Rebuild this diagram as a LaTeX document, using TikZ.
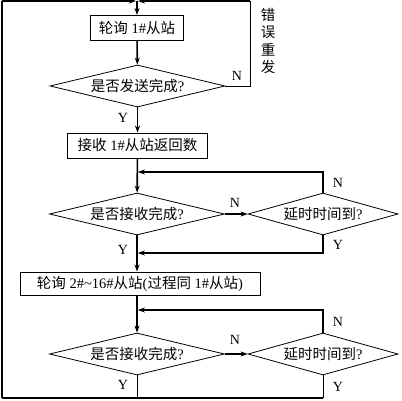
\documentclass[tikz,border=0pt]{standalone}
\usepackage{fontspec}
\setmainfont{Liberation Serif}
\newfontfamily\cjk{Noto Sans CJK SC}
\usetikzlibrary{shapes.geometric,arrows.meta}
\newcommand{\fs}{\fontsize{14.5pt}{17.5pt}\selectfont}
\begin{document}
\begin{tikzpicture}[x=1pt,y=-1pt,
  box/.style={draw,line width=0.9pt,minimum height=25pt,inner sep=0pt,font=\fs},
  dia/.style={draw,diamond,line width=0.8pt,minimum width=175pt,minimum height=42pt,inner sep=0pt,aspect=4.2,font=\fs},
  flow/.style={line width=1.6pt,-{Stealth[length=7pt,width=5pt]}},
  mainline/.style={line width=1.6pt},
  thinline/.style={line width=0.9pt},
  lab/.style={font=\fontsize{14pt}{16pt}\selectfont,inner sep=0pt}]
\useasboundingbox (0,0) rectangle (402,401);
% nodes
\node[box,minimum width=93pt] (b1) at (137,28) {{\cjk 轮询} 1\#{\cjk 从站}};
\node[dia] (d1) at (137.5,86) {{\cjk 是否发送完成}?};
\node[box,minimum width=140pt] (b2) at (137.5,145.5) {{\cjk 接收} 1\#{\cjk 从站返回数}};
\node[dia] (d2) at (137,214) {{\cjk 是否接收完成}?};
\node[dia,minimum width=150pt] (d3) at (323,214) {{\cjk 延时时间到}?};
\node[box,minimum width=240pt,minimum height=23pt] (b3) at (140,283.5) {{\cjk 轮询} 2\#\textasciitilde16\#{\cjk 从站}({\cjk 过程同} 1\#{\cjk 从站})};
\node[dia] (d4) at (137,354) {{\cjk 是否接收完成}?};
\node[dia,minimum width=150pt] (d5) at (323,354) {{\cjk 延时时间到}?};
\node[font={\fontsize{14.5pt}{17.5pt}\selectfont\cjk},align=center,inner sep=0pt] (err) at (268,41) {错\\误\\重\\发};
% coordinates
\coordinate (TL) at (2,1);
\coordinate (TJ) at (137,1);
\coordinate (TR) at (250,1);
\coordinate (BL) at (2,398);
\coordinate (M1) at (137,172);
\coordinate (M2) at (137,253);
\coordinate (M3) at (137,310);
% connectors
\draw[mainline] (BL) -- (TL);
\draw[flow,shorten >=1pt] (TL) -- (TJ);
\draw[flow,shorten >=1pt] (TR) -- (TJ);
\draw[thinline] (d1.east) -- (TR |- d1.east) -- (TR);
\draw[flow] (TJ) -- (b1.north);
\draw[flow] (b1) -- (d1);
\draw[flow] (d1) -- (b2);
\draw[flow] (b2) -- (d2);
\draw[flow] (d2) -- (d3);
\draw[flow,shorten >=0.8pt] (d3.north) -- (d3.north |- M1) -- (M1);
\draw[flow,shorten >=0.8pt] (d3.south) -- (d3.south |- M2) -- (M2);
\draw[flow] (d2.south) -- (d2.south |- b3.north);
\draw[flow] (b3.south -| d4.north) -- (d4.north);
\draw[flow] (d4) -- (d5);
\draw[flow,shorten >=0.8pt] (d5.north) -- (d5.north |- M3) -- (M3);
\draw[thinline] (d4.south) -- (d4.south |- BL);
\draw[thinline] (d5.south) -- (d5.south |- BL);
\draw[mainline] (BL) -- (BL -| d5.south);
% labels
\node[lab] (n1) at (237,76) {N};
\node[lab] (y1) at (123,118) {Y};
\node[lab] (n2) at (235,203) {N};
\node[lab] (n3) at (338,183) {N};
\node[lab] (y2) at (338,245) {Y};
\node[lab] (y3) at (123,250) {Y};
\node[lab] (n4) at (235,340) {N};
\node[lab] (n5) at (338,322) {N};
\node[lab] (y4) at (123,385) {Y};
\node[lab] (y5) at (338,387) {Y};
\end{tikzpicture}
\end{document}
